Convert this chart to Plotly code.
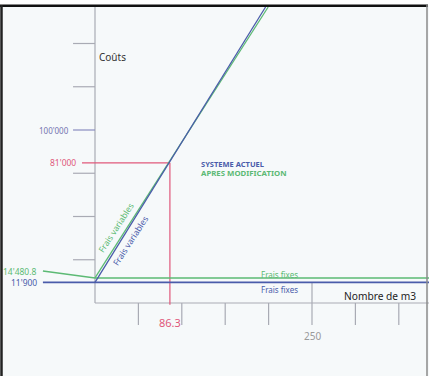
import plotly.graph_objects as go

# ---- data ----
m3_blue = [0, 196.5]            # SYSTEME ACTUEL, frais variables
cost_blue = [11900, 171100]
m3_green = [0, 199.5]           # APRES MODIFICATION, frais variables
cost_green = [14480.8, 171100]
fixed_blue = 11900
fixed_green = 14480.8
point_m3 = 86.3
point_cost = 81000
y_ticks = [25000, 50000, 75000, 100000, 125000, 150000]
x_ticks = [50, 100, 150, 200, 250, 300, 350]

BLUE = "#4a5caa"
GREEN = "#5cba74"
RED = "#e0587a"
AXIS = "#a9abb4"
FONT = "Noto Sans"

# axis ranges chosen so the plot area fills the whole 429x376 page
KX = 0.868      # px per m3
KY = 0.00173    # px per franc
X0, Y0 = 95, 303
xr = [-X0 / KX, (429 - X0) / KX]
yr = [(Y0 - 376) / KY, Y0 / KY]
XMAX = xr[1]

fig = go.Figure()

def seg(x, y, color, width=1.3):
    fig.add_trace(go.Scatter(x=x, y=y, mode="lines", hoverinfo="skip",
                             line=dict(color=color, width=width), showlegend=False))

# axes
seg([0, 0], [0, 171500], AXIS, 1.2)
seg([0, XMAX], [0, 0], AXIS, 1.2)
for v in y_ticks:
    seg([-25.3, 0], [v, v], "#8a8cc0" if v == 100000 else AXIS, 1.2)
for v in x_ticks:
    top = fixed_blue if v == 250 else 0
    seg([v, v], [top, -12700], AXIS, 1.2)

# red guide lines
seg([-15, point_m3], [point_cost, point_cost], RED, 1.2)
seg([point_m3, point_m3], [point_cost, -1000], RED, 1.2)

# fixed costs
seg([-60, 0, XMAX], [18500, fixed_green, fixed_green], GREEN, 1.5)
seg([-60, XMAX], [fixed_blue, fixed_blue], BLUE, 1.8)

# variable costs
seg(m3_green, cost_green, GREEN, 1.3)
seg(m3_blue, cost_blue, BLUE, 1.3)

def txt(x, y, s, color, size, xanchor="center", angle=0, bold=False):
    if bold:
        s = "<b>" + s + "</b>"
    fig.add_annotation(x=x, y=y, text=s, showarrow=False, xanchor=xanchor,
                       yanchor="middle", textangle=angle,
                       font=dict(family=FONT, size=size, color=color))

txt(-27.6, 100000, "100'000", "#7474b0", 8, "right")
txt(-19.6, point_cost, "81'000", RED, 8.5, "right")
txt(-65, 18500, "14'480.8", GREEN, 8.5, "right")
txt(-65, fixed_blue, "11'900", BLUE, 8.5, "right")
txt(point_m3, -11000, "86.3", RED, 11)
txt(250, -19000, "250", "#9a9a9a", 10)
txt(2.3, 142200, "Coûts", "#333333", 10, "left")
txt(372, 4046, "Nombre de m3", "#222222", 10.2, "right")
txt(119.8, 80350, "SYSTEME ACTUEL", BLUE, 7.5, "left", bold=True)
txt(119.8, 75145, "APRES MODIFICATION", GREEN, 7.8, "left", bold=True)
txt(213, 16400, "Frais fixes", GREEN, 8)
txt(213, 7900, "Frais fixes", BLUE, 8)
txt(23.8, 43800, "Frais variables", GREEN, 8.5, angle=-57)
txt(40.8, 36000, "Frais variables", BLUE, 8.5, angle=-57)

# frame
fig.add_shape(type="rect", xref="paper", yref="paper", x0=0, x1=1, y0=1 - 5.5 / 376, y1=1,
              fillcolor="white", line_width=0, layer="below")
fig.add_shape(type="line", xref="paper", yref="paper", x0=0, x1=428 / 429,
              y0=1 - 5.8 / 376, y1=1 - 5.8 / 376, line=dict(color="#111111", width=2.5))
fig.add_shape(type="line", xref="paper", yref="paper", x0=1.5 / 429, x1=1.5 / 429,
              y0=0, y1=1 - 5 / 376, line=dict(color="#222222", width=2.5))
fig.add_shape(type="line", xref="paper", yref="paper", x0=427 / 429, x1=427 / 429,
              y0=0, y1=1 - 5 / 376, line=dict(color="#8a8a8a", width=1.5))

fig.update_xaxes(range=xr, visible=False, fixedrange=True)
fig.update_yaxes(range=yr, visible=False, fixedrange=True)
fig.update_layout(width=429, height=376, margin=dict(l=0, r=0, t=0, b=0),
                  paper_bgcolor="#f6f9fa", plot_bgcolor="#f6f9fa")

fig.write_html("out.html", config={"displayModeBar": False},
               post_script="document.body.style.margin='0';document.body.style.overflow='hidden';")
